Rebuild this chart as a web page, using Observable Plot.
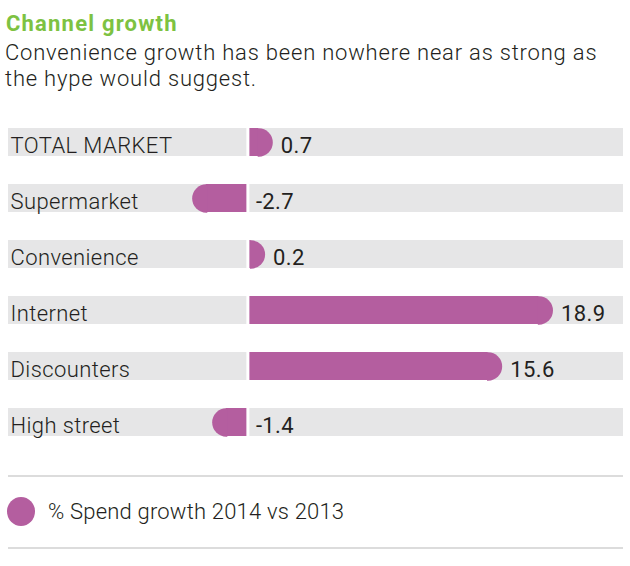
<!DOCTYPE html>
<html>
<head>
<meta charset="utf-8">
<script src="https://cdn.jsdelivr.net/npm/d3@7"></script>
<script src="https://cdn.jsdelivr.net/npm/@observablehq/plot@0.6"></script>
<style>
  html, body { margin: 0; padding: 0; background: #fff; }
  body { width: 630px; height: 566px; position: relative; font-family: Roboto, "DejaVu Sans", sans-serif; color: #231f20; overflow: hidden; }
  #title { position: absolute; left: 6px; top: 11px; margin: 0; font: 700 22px/26px Roboto, sans-serif; letter-spacing: 1.2px; color: #7dc242; white-space: nowrap; }
  #subtitle { position: absolute; left: 5px; top: 40px; margin: 0; font: 300 22px/26px Roboto, sans-serif; letter-spacing: 0.8px; color: #231f20; white-space: nowrap; }
  #chart { position: absolute; left: 0; top: 92px; }
  .rule { position: absolute; left: 8px; width: 615px; height: 2px; background: #dcdcdc; }
  #legend { position: absolute; left: 7px; top: 497px; display: flex; align-items: center; }
  #legend .sw { width: 28px; height: 29px; border-radius: 50%; background: #b45e9f; }
  #legend .lb { margin-left: 13px; font: 300 22px/29px Roboto, sans-serif; letter-spacing: 0.2px; color: #231f20; white-space: nowrap; }
</style>
</head>
<body>
<div id="title"></div>
<div id="subtitle"></div>
<div id="chart"></div>
<div class="rule" style="top:475px"></div>
<div id="legend"><div class="sw"></div><div class="lb"></div></div>
<div class="rule" style="top:547px"></div>
<script>
// ---- data ----
const titleText = "Channel growth";
const subtitleLines = ["Convenience growth has been nowhere near as strong as", "the hype would suggest."];
const categories = ["TOTAL MARKET", "Supermarket", "Convenience", "Internet", "Discounters", "High street"];
const growth = [0.7, -2.7, 0.2, 18.9, 15.6, -1.4];
const valueLabels = ["0.7", "-2.7", "0.2", "18.9", "15.6", "-1.4"];
const legendLabel = "% Spend growth 2014 vs 2013";

// ---- build ----
document.getElementById("title").textContent = titleText;
document.getElementById("subtitle").innerHTML = subtitleLines.map(s => s.replace(/&/g, "&amp;")).join("<br>");
document.querySelector("#legend .lb").textContent = legendLabel;

const data = categories.map((c, i) => ({category: c, value: growth[i], label: valueLabels[i], i}));

const purple = "#b45e9f";
const grey = "#e6e6e7";
const ink = "#231f20";
const xDomain = [-15.55, 24.4];
const capR = 14.15;

const halfRight = {draw(ctx, size) { const r = Math.sqrt(size / Math.PI); ctx.moveTo(-1, -r); ctx.lineTo(0, -r); ctx.arc(0, 0, r, -Math.PI / 2, Math.PI / 2); ctx.lineTo(-1, r); ctx.closePath(); }};
const halfLeft = {draw(ctx, size) { const r = Math.sqrt(size / Math.PI); ctx.moveTo(1, -r); ctx.lineTo(0, -r); ctx.arc(0, 0, r, -Math.PI / 2, Math.PI / 2, true); ctx.lineTo(1, r); ctx.closePath(); }};

const strong = d => d.i < 3;

const chart = Plot.plot({
  width: 630,
  height: 370,
  marginLeft: 8,
  marginRight: 7,
  marginTop: 35.5,
  marginBottom: 25.2,
  x: {domain: xDomain, axis: null},
  y: {domain: categories, axis: null, paddingInner: 0.496, paddingOuter: 0, align: 0.5},
  style: {fontFamily: "Roboto, sans-serif", background: "transparent", overflow: "visible"},
  marks: [
    Plot.barX(categories, {y: d => d, x1: () => xDomain[0], x2: () => xDomain[1], fill: grey}),
    Plot.barX(data, {y: "category", x1: () => 0, x2: "value", fill: purple}),
    Plot.dot(data.filter(d => d.value >= 0), {y: "category", x: "value", r: capR, fill: purple, symbol: halfRight}),
    Plot.dot(data.filter(d => d.value < 0), {y: "category", x: "value", r: capR, fill: purple, symbol: halfLeft}),
    Plot.ruleX([0], {stroke: "#fff", strokeWidth: 3}),
    Plot.text(categories, {y: d => d, x: () => xDomain[0], text: d => d, textAnchor: "start", dx: 2, dy: 3, fontSize: 22, fontWeight: 300, fill: ink, style: "letter-spacing:0.5px"}),
    Plot.text(data.filter(d => d.value >= 0), {y: "category", x: "value", text: "label", textAnchor: "start", dx: capR + 8, dy: 3, fontSize: 22, fill: ink, fontWeight: d => strong(d) ? 600 : 300}),
    Plot.text(data.filter(d => d.value < 0), {y: "category", x: () => 0, text: "label", textAnchor: "start", dx: 8, dy: 3, fontSize: 22, fill: ink, fontWeight: d => strong(d) ? 600 : 300})
  ]
});
chart.querySelectorAll("text").forEach(t => t.style.letterSpacing = "0.4px");
document.getElementById("chart").appendChild(chart);
</script>
</body>
</html>
